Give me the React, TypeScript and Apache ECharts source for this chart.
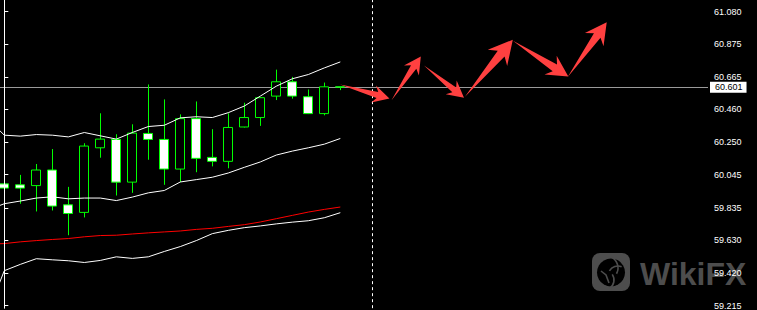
import React, { useEffect, useRef } from "react";
import * as echarts from "echarts";

// Candle indices (bar positions) and OHLC values
const candleIdx = [0, 1, 2, 3, 4, 5, 6, 7, 8, 9, 10, 11, 12, 13, 14, 15, 16, 17, 18, 19, 20, 21];
const opens = [59.987, 59.981, 59.976, 60.075, 59.854, 59.806, 60.216, 60.269, 59.998, 60.307, 60.269, 60.081, 60.401, 60.155, 60.130, 60.348, 60.408, 60.544, 60.635, 60.540, 60.433, 60.603];
const closes = [59.960, 59.960, 60.075, 59.846, 59.799, 60.227, 60.271, 59.998, 60.309, 60.269, 60.081, 60.401, 60.149, 60.130, 60.345, 60.408, 60.534, 60.635, 60.544, 60.433, 60.603, 60.601];
const lows = [59.945, 59.861, 59.812, 59.818, 59.661, 59.774, 60.153, 59.913, 59.930, 60.140, 59.981, 59.998, 60.061, 60.098, 60.086, 60.345, 60.355, 60.519, 60.528, 60.430, 60.422, 60.582];
const highs = [60.056, 60.044, 60.113, 60.208, 59.968, 60.245, 60.435, 60.302, 60.365, 60.618, 60.523, 60.428, 60.510, 60.334, 60.435, 60.502, 60.538, 60.712, 60.666, 60.586, 60.630, 60.604];

// Indicator lines (index -1 .. 21)
const lineIdx = [-1, 0, 1, 2, 3, 4, 5, 6, 7, 8, 9, 10, 11, 12, 13, 14, 15, 16, 17, 18, 19, 20, 21];
const upperBand = [60.397, 60.296, 60.290, 60.300, 60.296, 60.285, 60.313, 60.292, 60.271, 60.313, 60.351, 60.359, 60.406, 60.413, 60.408, 60.439, 60.481, 60.544, 60.607, 60.654, 60.681, 60.723, 60.761];
const middleBand = [59.822, 59.861, 59.878, 59.897, 59.905, 59.892, 59.897, 59.897, 59.881, 59.903, 59.930, 59.945, 59.999, 60.014, 60.029, 60.056, 60.092, 60.126, 60.170, 60.195, 60.216, 60.239, 60.275];
const lowerBand = [59.180, 59.436, 59.476, 59.512, 59.505, 59.499, 59.488, 59.501, 59.524, 59.514, 59.524, 59.558, 59.589, 59.627, 59.671, 59.692, 59.709, 59.720, 59.733, 59.744, 59.753, 59.772, 59.804];
const redMA = [59.605, 59.608, 59.619, 59.627, 59.634, 59.640, 59.651, 59.659, 59.661, 59.669, 59.676, 59.682, 59.688, 59.698, 59.705, 59.717, 59.728, 59.745, 59.766, 59.787, 59.808, 59.825, 59.840];

// Price axis tick labels
const priceTicks = [59.215, 59.420, 59.630, 59.835, 60.045, 60.250, 60.460, 60.665, 60.875, 61.080];
const currentPrice = 60.601;
// Period separators (bar index)
const separators = [0, 23];

// Forecast arrows: [fromIdx, fromPrice] -> [toIdx, toPrice]
const arrowFrom = [
  [20.98, 60.618],
  [24.2, 60.517],
  [26.23, 60.738],
  [28.79, 60.540],
  [31.79, 60.895],
  [35.21, 60.666],
];
const arrowTo = [
  [24.07, 60.529],
  [26.03, 60.796],
  [28.73, 60.534],
  [31.78, 60.902],
  [35.25, 60.668],
  [37.65, 61.013],
];

export default function App() {
  const ref = useRef<HTMLDivElement>(null);

  useEffect(() => {
    if (!ref.current) return;
    const chart = echarts.init(ref.current, null, { renderer: "svg" });

    const candleData = candleIdx.map((x, i) => [x, opens[i], closes[i], lows[i], highs[i]]);
    const mk = (arr: number[]) => lineIdx.map((x, i) => [x, arr[i]]);
    const arrowData = arrowFrom.map((f, i) => [f[0], f[1], arrowTo[i][0], arrowTo[i][1]]);

    const gray = "#4d4d4d";

    chart.setOption({
      animation: false,
      backgroundColor: "#000000",
      grid: { left: 0, right: 49, top: 0, bottom: 0, containLabel: false },
      xAxis: {
        type: "value",
        min: -0.27,
        max: 43.98,
        show: false,
      },
      yAxis: {
        type: "value",
        position: "right",
        min: 59.198,
        max: 61.154,
        z: 10,
        splitLine: { show: false },
        axisLine: { show: true, lineStyle: { color: "#ffffff", width: 1 } },
        axisTick: {
          show: true,
          customValues: priceTicks,
          length: 4,
          inside: false,
          lineStyle: { color: "#ffffff", width: 1 },
        },
        axisLabel: {
          show: true,
          customValues: priceTicks,
          formatter: (v: number) => v.toFixed(3),
          color: "#ffffff",
          fontSize: 9,
          fontFamily: "Liberation Sans, Arial, sans-serif",
          margin: 6,
        },
      },
      graphic: [
        {
          type: "group",
          z: -10,
          children: [
            {
              type: "rect",
              z: -10,
              shape: { x: 592, y: 253, width: 38, height: 38, r: 8 },
              style: { fill: gray },
            },
            {
              type: "circle",
              z: -9,
              shape: { cx: 611, cy: 272.5, r: 14 },
              style: { fill: "#000000" },
            },
            {
              type: "arc",
              z: -8,
              shape: { cx: 606, cy: 268, r: 12, startAngle: -1.2, endAngle: 0.5 },
              style: { stroke: gray, lineWidth: 1.6, fill: "none" },
            },
            {
              type: "arc",
              z: -8,
              shape: { cx: 618, cy: 276, r: 10, startAngle: -2.6, endAngle: -1.2 },
              style: { stroke: gray, lineWidth: 1.6, fill: "none" },
            },
            {
              type: "arc",
              z: -8,
              shape: { cx: 604, cy: 280, r: 10, startAngle: -0.6, endAngle: 1.0 },
              style: { stroke: gray, lineWidth: 1.6, fill: "none" },
            },
            {
              type: "polyline",
              z: -8,
              shape: { points: [[601, 271], [606, 275], [609, 283]] },
              style: { stroke: gray, lineWidth: 1.6, fill: "none" },
            },
            {
              type: "text",
              z: -10,
              x: 640,
              y: 258,
              style: {
                text: "WikiFX",
                fill: gray,
                font: 'bold 32px "Liberation Sans", Arial, sans-serif',
                textAlign: "left",
                textVerticalAlign: "top",
              },
            },
          ],
        },
      ],
      series: [
        {
          type: "candlestick",
          data: candleData,
          encode: { x: 0, y: [1, 2, 3, 4] },
          barWidth: 9.4,
          z: 2,
          itemStyle: {
            color: "#000000",
            color0: "#ffffff",
            borderColor: "#00ff00",
            borderColor0: "#00ff00",
            borderWidth: 1,
          },
          markLine: {
            silent: true,
            symbol: ["none", "none"],
            z: 1,
            animation: false,
            data: [
              {
                yAxis: currentPrice,
                lineStyle: { color: "#9a9a9a", width: 1, type: "solid" },
                label: {
                  show: true,
                  position: "end",
                  distance: 2,
                  formatter: currentPrice.toFixed(3),
                  color: "#000000",
                  backgroundColor: "#ffffff",
                  fontSize: 9,
                  fontFamily: "Liberation Sans, Arial, sans-serif",
                  padding: [1, 4, 0, 5],
                  lineHeight: 10,
                },
              },
              ...separators.map((s) => ({
                xAxis: s,
                lineStyle: { color: "#ffffff", width: 1, type: [3, 3] },
                label: { show: false },
              })),
            ],
          },
        },
        {
          type: "line",
          data: mk(upperBand),
          symbol: "none",
          z: 3,
          lineStyle: { color: "#ffffff", width: 1 },
        },
        {
          type: "line",
          data: mk(middleBand),
          symbol: "none",
          z: 3,
          lineStyle: { color: "#ffffff", width: 1 },
        },
        {
          type: "line",
          data: mk(lowerBand),
          symbol: "none",
          z: 3,
          lineStyle: { color: "#ffffff", width: 1 },
        },
        {
          type: "line",
          data: mk(redMA),
          symbol: "none",
          z: 3,
          lineStyle: { color: "#ff0000", width: 1 },
        },
        {
          type: "custom",
          data: arrowData,
          encode: { x: [0, 2], y: [1, 3] },
          z: 6,
          clip: false,
          renderItem: (params: any, api: any) => {
            const a = api.coord([api.value(0), api.value(1)]);
            const b = api.coord([api.value(2), api.value(3)]);
            const dx = b[0] - a[0];
            const dy = b[1] - a[1];
            const L = Math.hypot(dx, dy);
            const ux = dx / L;
            const uy = dy / L;
            const nx = -uy;
            const ny = ux;
            const hl = 0.32 * L;
            const hw = 0.17 * L;
            const sw = 0.06 * L;
            const notch = 0.76 * hl;
            const pt = (s: number, t: number) => [a[0] + ux * s + nx * t, a[1] + uy * s + ny * t];
            return {
              type: "polygon",
              shape: {
                points: [pt(0, 0), pt(L - notch, sw), pt(L - hl, hw), pt(L, 0), pt(L - hl, -hw), pt(L - notch, -sw)],
              },
              style: { fill: "#ff4040" },
            };
          },
        },
      ],
    });

    return () => chart.dispose();
  }, []);

  return (
    <div
      ref={ref}
      style={{ position: "absolute", left: 0, top: 0, width: 757, height: 310, background: "#000" }}
    />
  );
}
